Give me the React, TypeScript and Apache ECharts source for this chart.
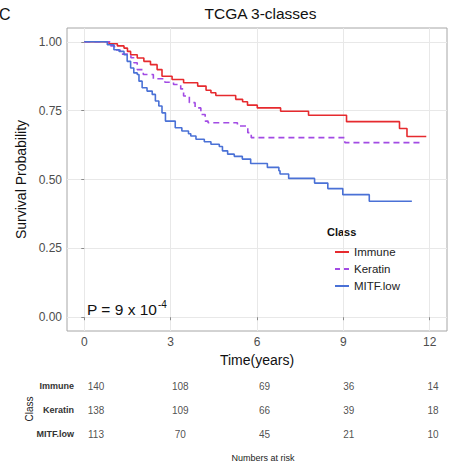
import React, { useEffect, useRef } from 'react';
import * as echarts from 'echarts';

const immuneTime = [0, 0.86, 1.15, 1.38, 1.5, 1.61, 1.84, 2.07, 2.3, 2.53, 2.7, 3.05, 3.45, 3.94, 4.23, 4.4, 4.57, 5.26, 5.5, 5.67, 6.01, 6.82, 7.79, 9.11, 10.95, 11.21, 11.88];
const immuneSurv = [1.0, 0.993, 0.985, 0.977, 0.965, 0.953, 0.941, 0.929, 0.917, 0.899, 0.875, 0.863, 0.851, 0.839, 0.824, 0.815, 0.805, 0.791, 0.782, 0.77, 0.76, 0.748, 0.733, 0.71, 0.685, 0.656, 0.656];

const keratinTime = [0, 0.92, 1.05, 1.25, 1.62, 1.72, 1.84, 2.05, 2.4, 2.8, 3.1, 3.35, 3.45, 3.65, 3.85, 4.05, 4.2, 4.3, 5.32, 5.68, 5.8, 9.05, 11.66];
const keratinSurv = [1.0, 0.985, 0.97, 0.955, 0.942, 0.924, 0.899, 0.881, 0.866, 0.853, 0.845, 0.829, 0.803, 0.779, 0.76, 0.736, 0.712, 0.706, 0.694, 0.67, 0.652, 0.634, 0.634];

const mitfTime = [0, 0.8, 1.03, 1.21, 1.38, 1.49, 1.61, 1.72, 1.84, 1.9, 2.01, 2.18, 2.36, 2.47, 2.59, 2.7, 2.82, 3.16, 3.39, 3.62, 3.7, 3.88, 4.17, 4.4, 4.69, 4.8, 4.98, 5.21, 5.49, 5.78, 6.36, 6.76, 6.8, 7.1, 8.0, 8.46, 8.98, 9.9, 11.38];
const mitfSurv = [1.0, 0.989, 0.971, 0.965, 0.953, 0.929, 0.905, 0.887, 0.881, 0.857, 0.833, 0.821, 0.809, 0.785, 0.767, 0.742, 0.712, 0.688, 0.676, 0.666, 0.658, 0.646, 0.637, 0.628, 0.62, 0.604, 0.592, 0.584, 0.574, 0.558, 0.544, 0.532, 0.52, 0.504, 0.487, 0.467, 0.445, 0.421, 0.421];

const classNames = ['Immune', 'Keratin', 'MITF.low'];
const xTicks = [0, 3, 6, 9, 12];
const yTicks = [0, 0.25, 0.5, 0.75, 1];
const riskTimes = [0, 3, 6, 9, 12];
const riskImmune = [140, 108, 69, 36, 14];
const riskKeratin = [138, 109, 66, 39, 18];
const riskMitf = [113, 70, 45, 21, 10];

const FONT = '"Liberation Sans", Arial, Helvetica, sans-serif';
const COLORS = ['#E62A2E', '#A24BE4', '#4A71D6'];
const SOLID_ICON = 'path://M0,0H14V2H0Z';
const DASH_ICON = 'path://M0,0H5V2H0Z M9,0H14V2H9Z';

function pairs(t: number[], s: number[]) {
  return t.map((v, i) => [v, s[i]]);
}

export default function App() {
  const ref = useRef<HTMLDivElement>(null);
  useEffect(() => {
    document.body.style.margin = '0';
    const chart = echarts.init(ref.current!, null, { renderer: 'svg' });
    const riskRows = [riskImmune, riskKeratin, riskMitf];
    const riskData: any[] = [];
    riskRows.forEach((row, r) => {
      row.forEach((v, i) => riskData.push([riskTimes[i], classNames[r], v]));
    });
    const option: any = {
      animation: false,
      backgroundColor: '#fff',
      textStyle: { fontFamily: FONT },
      grid: [
        { left: 67, top: 28, width: 380, height: 303, show: true, borderColor: '#a6a6a6', borderWidth: 1, backgroundColor: '#fff' },
        { left: 96, top: 374, width: 337, height: 72 },
      ],
      xAxis: [
        {
          type: 'value', gridIndex: 0, min: -0.6, max: 12.6,
          name: 'Time(years)', nameLocation: 'middle', nameGap: 19,
          nameTextStyle: { fontSize: 14, color: '#111', fontFamily: FONT },
          axisLine: { show: false },
          axisTick: { show: true, length: 3, lineStyle: { color: '#8a8a8a' }, customValues: xTicks },
          axisLabel: { fontSize: 12, color: '#4d4d4d', margin: 5, customValues: xTicks, fontFamily: FONT },
          splitLine: { show: true, lineStyle: { color: '#e8e8e8', width: 1 } },
        },
        {
          type: 'value', gridIndex: 1, min: 0, max: 12,
          axisLine: { show: false }, axisTick: { show: false }, axisLabel: { show: false }, splitLine: { show: false },
        },
      ],
      yAxis: [
        {
          type: 'value', gridIndex: 0, min: -0.05, max: 1.05,
          name: 'Survival Probability', nameLocation: 'middle', nameGap: 30, nameRotate: 90,
          nameTextStyle: { fontSize: 14, color: '#111', fontFamily: FONT },
          axisLine: { show: false },
          axisTick: { show: true, length: 3, lineStyle: { color: '#8a8a8a' }, customValues: yTicks },
          axisLabel: { fontSize: 12, color: '#4d4d4d', margin: 5, customValues: yTicks, fontFamily: FONT, formatter: (v: number) => v.toFixed(2) },
          splitLine: { show: true, lineStyle: { color: '#e8e8e8', width: 1 } },
        },
        {
          type: 'category', gridIndex: 1, data: classNames, inverse: true,
          axisLine: { show: false }, axisTick: { show: false }, splitLine: { show: false },
          axisLabel: { fontSize: 9, fontWeight: 'bold', color: '#333', margin: 22, fontFamily: FONT },
        },
      ],
      legend: {
        data: [
          { name: 'Immune', icon: SOLID_ICON },
          { name: 'Keratin', icon: DASH_ICON },
          { name: 'MITF.low', icon: SOLID_ICON },
        ],
        orient: 'vertical', left: 330, top: 240,
        itemWidth: 14, itemHeight: 2, itemGap: 3,
        textStyle: { fontSize: 11.5, lineHeight: 14, color: '#222', fontFamily: FONT },
      },
      series: [
        { name: 'Immune', type: 'line', step: 'end', symbol: 'none', data: pairs(immuneTime, immuneSurv), lineStyle: { color: COLORS[0], width: 1.6 }, itemStyle: { color: COLORS[0] } },
        { name: 'Keratin', type: 'line', step: 'end', symbol: 'none', data: pairs(keratinTime, keratinSurv), lineStyle: { color: COLORS[1], width: 1.6, type: [6, 4] }, itemStyle: { color: COLORS[1] } },
        { name: 'MITF.low', type: 'line', step: 'end', symbol: 'none', data: pairs(mitfTime, mitfSurv), lineStyle: { color: COLORS[2], width: 1.6 }, itemStyle: { color: COLORS[2] } },
        {
          type: 'scatter', xAxisIndex: 1, yAxisIndex: 1, symbolSize: 1, silent: true,
          itemStyle: { color: 'transparent' },
          data: riskData,
          label: { show: true, position: 'inside', formatter: (p: any) => String(p.value[2]), fontSize: 10, color: '#222', fontFamily: FONT },
        },
      ],
      graphic: [
        { type: 'text', x: -1, y: 14, style: { text: 'C', fontSize: 16, fill: '#111', fontFamily: FONT, verticalAlign: 'middle' } },
        { type: 'text', x: 260.5, y: 13, style: { text: 'TCGA 3-classes', fontSize: 15.5, fill: '#111', fontFamily: FONT, align: 'center', verticalAlign: 'middle' } },
        { type: 'text', x: 327, y: 232, style: { text: 'Class', fontSize: 11, fontWeight: 'bold', fill: '#111', fontFamily: FONT, verticalAlign: 'middle' } },
        { type: 'text', x: 87, y: 309.5, style: { text: 'P = 9 x 10', fontSize: 15.5, fill: '#111', fontFamily: FONT, verticalAlign: 'middle' } },
        { type: 'text', x: 158, y: 304, style: { text: '-4', fontSize: 10, fill: '#111', fontFamily: FONT, verticalAlign: 'middle' } },
        { type: 'text', x: 29, y: 409, rotation: Math.PI / 2, style: { text: 'Class', fontSize: 10, fill: '#222', fontFamily: FONT, align: 'center', verticalAlign: 'middle' } },
        { type: 'text', x: 263, y: 458, style: { text: 'Numbers at risk', fontSize: 9, fill: '#222', fontFamily: FONT, align: 'center', verticalAlign: 'middle' } },
      ],
    };
    chart.setOption(option);
    return () => chart.dispose();
  }, []);
  return <div ref={ref} style={{ width: 454, height: 469 }} />;
}
